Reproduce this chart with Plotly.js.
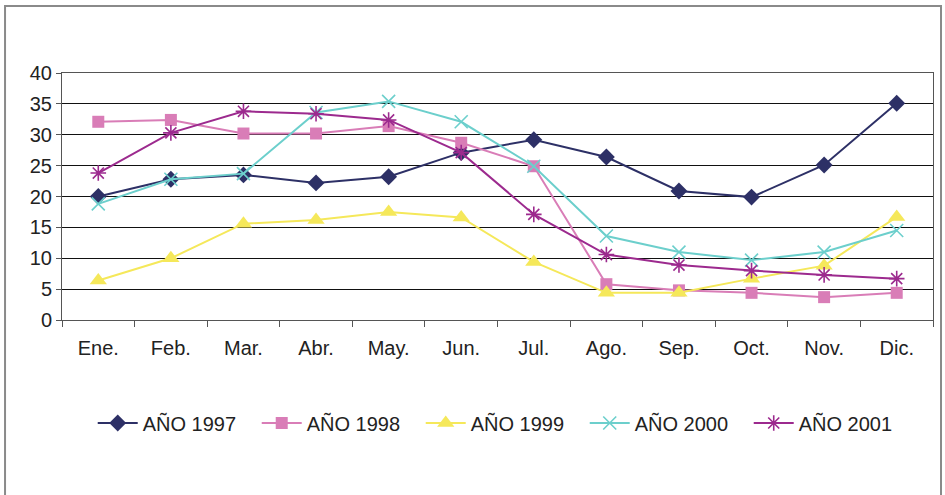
<!DOCTYPE html>
<html><head><meta charset="utf-8">
<script src="https://cdn.plot.ly/plotly-3.0.1.min.js"></script>
<style>html,body{margin:0;padding:0;background:#fff}#chart{width:945px;height:495px}</style>
</head><body><div id="chart"></div>
<script>
var months = ["Ene.","Feb.","Mar.","Abr.","May.","Jun.","Jul.","Ago.","Sep.","Oct.","Nov.","Dic."];
var y1997 = [20.0,22.8,23.5,22.2,23.2,27.1,29.2,26.4,20.9,19.9,25.1,35.1];
var y1998 = [32.1,32.4,30.2,30.2,31.4,28.7,24.9,5.8,4.8,4.4,3.7,4.4];
var y1999 = [6.4,10.0,15.6,16.2,17.5,16.6,9.4,4.4,4.4,6.7,8.8,16.7];
var y2000 = [18.8,22.8,23.7,33.6,35.4,32.1,24.9,13.6,11.0,9.7,11.0,14.5];
var y2001 = [23.8,30.3,33.8,33.4,32.4,27.1,17.1,10.6,8.9,8.0,7.3,6.7];
var names = ["AÑO 1997","AÑO 1998","AÑO 1999","AÑO 2000","AÑO 2001"];

function tr(name, y, color, symbol, size, open){
  var m = {symbol: symbol, size: size, color: color};
  if(open){ m.line = {color: color, width: 1.6}; }
  else { m.line = {width: 0}; }
  return {x: months, y: y, name: name, type: 'scatter', mode: 'lines+markers',
    line: {color: color, width: 2}, marker: m, cliponaxis: false};
}
var data = [
  tr(names[0], y1997, '#2d3066', 'diamond', 13, false),
  tr(names[1], y1998, '#d97db7', 'square', 12, false),
  tr(names[2], y1999, '#f5e85a', 'triangle-up', 15, false),
  tr(names[3], y2000, '#6ccfcc', 'x-thin-open', 13, true),
  tr(names[4], y2001, '#9c2a8e', 'asterisk-open', 13, true)
];
var font = {family: 'Liberation Sans, Arial, sans-serif', size: 20, color: '#222'};
var layout = {
  width: 945, height: 495,
  margin: {l: 62, r: 12, t: 73, b: 175},
  paper_bgcolor: '#fff', plot_bgcolor: '#fff',
  font: font,
  showlegend: true,
  legend: {orientation: 'h', x: 0.506, xanchor: 'center', y: -0.417, yanchor: 'middle',
    font: font, entrywidth: 109, entrywidthmode: 'pixels', itemwidth: 40, traceorder: 'normal'},
  xaxis: {type: 'category', range: [-0.5, 11.5], showgrid: false, showline: true,
    linecolor: '#555', linewidth: 1, mirror: true, ticks: 'outside', tickson: 'boundaries',
    ticklen: 6, tickcolor: '#555', tickfont: font, ticklabelstandoff: 10, fixedrange: true},
  yaxis: {range: [0, 40], dtick: 5, showgrid: true, gridcolor: '#111', gridwidth: 1,
    showline: true, linecolor: '#555', linewidth: 1, mirror: true, ticks: 'outside',
    ticklen: 5, tickcolor: '#555', tickfont: font, zeroline: false, fixedrange: true},
  shapes: [{type: 'rect', xref: 'paper', yref: 'paper',
    x0: -0.0654, x1: 1.0092, y0: -0.74, y1: 1.271,
    line: {color: '#8a8a8a', width: 2}, fillcolor: 'rgba(0,0,0,0)', layer: 'below'}]
};
Plotly.newPlot('chart', data, layout, {displayModeBar: false, staticPlot: true});
</script></body></html>
